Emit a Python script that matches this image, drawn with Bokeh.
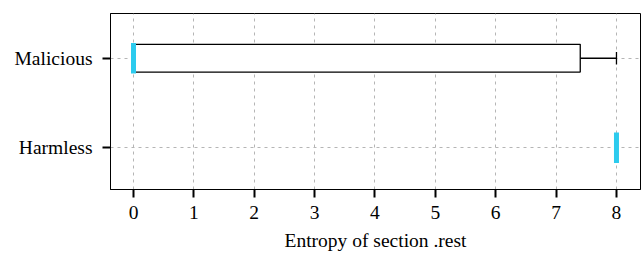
from bokeh.plotting import figure
from bokeh.models import Range1d, FixedTicker
from bokeh.embed import file_html
from bokeh.resources import INLINE

categories = ["Harmless", "Malicious"]
q1 = [8.0, 0.0]
median = [8.0, 0.0]
q3 = [8.0, 7.4]
lower_whisker = [8.0, 0.0]
upper_whisker = [8.0, 8.0]
x_ticks = [0, 1, 2, 3, 4, 5, 6, 7, 8]

ypos = list(range(len(categories)))
FONT = "Liberation Serif"
CYAN = "#2ccbee"

p = figure(width=643, height=253, output_backend="svg", toolbar_location=None,
           x_range=Range1d(-0.381, 8.398), y_range=Range1d(-0.467, 1.5),
           min_border_left=110, min_border_right=3, min_border_top=13, min_border_bottom=63)

p.outline_line_color = "black"
p.outline_line_alpha = 1
p.outline_line_width = 1

for g in (p.xgrid, p.ygrid):
    g.grid_line_color = "#b5b5b5"
    g.grid_line_dash = "3 4"
    g.grid_line_width = 1

p.xaxis.ticker = FixedTicker(ticks=x_ticks)
p.xaxis.minor_tick_line_color = None
p.yaxis.ticker = FixedTicker(ticks=ypos)
p.yaxis.major_label_overrides = {i: c for i, c in enumerate(categories)}
p.yaxis.minor_tick_line_color = None

for ax in (p.xaxis, p.yaxis):
    ax.axis_line_color = "black"
    ax.major_tick_line_color = "black"
    ax.major_tick_line_width = 2
    ax.major_tick_out = 8
    ax.major_tick_in = 0
    ax.major_label_text_font = FONT
    ax.major_label_text_font_size = "19.5px"
    ax.major_label_text_color = "black"

p.xaxis.major_label_standoff = 8
p.yaxis.major_label_standoff = 10
p.xaxis.axis_label = "Entropy of section .rest"
p.xaxis.axis_label_text_font = FONT
p.xaxis.axis_label_text_font_size = "19.5px"
p.xaxis.axis_label_text_font_style = "normal"
p.xaxis.axis_label_text_color = "black"
p.xaxis.axis_label_standoff = 8

# whiskers
p.segment(x0=q3, y0=ypos, x1=upper_whisker, y1=ypos, line_color="black", line_width=1.3)
p.segment(x0=lower_whisker, y0=ypos, x1=q1, y1=ypos, line_color="black", line_width=1.3)
p.segment(x0=upper_whisker, y0=[y - 0.07 for y in ypos], x1=upper_whisker,
          y1=[y + 0.07 for y in ypos], line_color="black", line_width=1.3)
# boxes
p.hbar(y=ypos, left=q1, right=q3, height=0.31, fill_color="white",
       line_color="black", line_width=1.3)
# medians
p.segment(x0=median, y0=[y - 0.17 for y in ypos], x1=median,
          y1=[y + 0.17 for y in ypos], line_color=CYAN, line_width=5)

open("out.html", "w").write(file_html(p, INLINE))
